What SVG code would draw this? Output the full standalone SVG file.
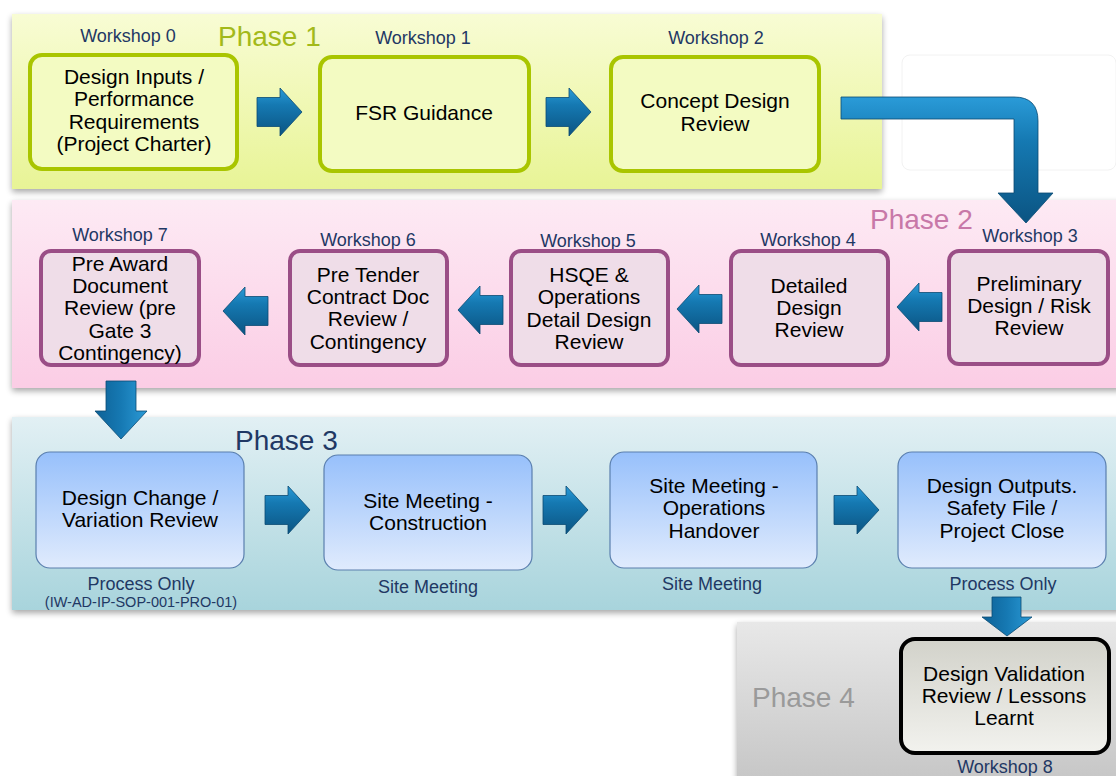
<svg xmlns="http://www.w3.org/2000/svg" width="1116" height="776" viewBox="0 0 1116 776">
<defs>
<linearGradient id="gP1" x1="0" y1="0" x2="0" y2="1"><stop offset="0" stop-color="#f8fcd4"/><stop offset="1" stop-color="#e8f496"/></linearGradient>
<linearGradient id="gP2" x1="0" y1="0" x2="0" y2="1"><stop offset="0" stop-color="#fdeaf4"/><stop offset="1" stop-color="#fbcde5"/></linearGradient>
<linearGradient id="gP3" x1="0" y1="0" x2="0" y2="1"><stop offset="0" stop-color="#e2f0f4"/><stop offset="1" stop-color="#a8d4dc"/></linearGradient>
<linearGradient id="gP4" x1="0" y1="0" x2="0" y2="1"><stop offset="0" stop-color="#e8e8e8"/><stop offset="1" stop-color="#c6c6c6"/></linearGradient>
<linearGradient id="gN3" x1="0" y1="0" x2="0" y2="1"><stop offset="0" stop-color="#97c0fb"/><stop offset="1" stop-color="#e0ebfd"/></linearGradient>
<linearGradient id="gN4" x1="0" y1="0" x2="0" y2="1"><stop offset="0" stop-color="#d2d2ca"/><stop offset="1" stop-color="#f2f2ee"/></linearGradient>
<linearGradient id="gArH" x1="0" y1="0" x2="0" y2="1"><stop offset="0" stop-color="#2a9bd8"/><stop offset="0.35" stop-color="#1579b2"/><stop offset="1" stop-color="#0b5482"/></linearGradient>
<linearGradient id="gArV" x1="0" y1="0" x2="1" y2="0"><stop offset="0" stop-color="#0d6196"/><stop offset="0.5" stop-color="#1679b3"/><stop offset="1" stop-color="#2b9ad6"/></linearGradient>
<filter id="sh" x="-5%" y="-10%" width="110%" height="125%"><feGaussianBlur in="SourceAlpha" stdDeviation="3"/><feOffset dx="0" dy="3" result="b"/><feComponentTransfer><feFuncA type="linear" slope="0.35"/></feComponentTransfer><feMerge><feMergeNode/><feMergeNode in="SourceGraphic"/></feMerge></filter>
<path id="arR" d="M0,-14.5 H23 V-24 L45,0 L23,24 V14.5 H0 Z"/>
</defs>
<style>
.band{filter:url(#sh)}
.n1{fill:#f3fbc2;stroke:#a9c500;stroke-width:4}
.n2{fill:#efdde8;stroke:#9a4e86;stroke-width:4}
.n3{fill:url(#gN3);stroke:#5a7fae;stroke-width:1.2}
.n4{fill:url(#gN4);stroke:#000;stroke-width:4}
.t{font-family:"Liberation Sans",Arial,sans-serif;font-size:21px;fill:#000;text-anchor:middle}
.w{font-family:"Liberation Sans",Arial,sans-serif;font-size:18px;fill:#1f3864;text-anchor:middle}
.s{font-family:"Liberation Sans",Arial,sans-serif;font-size:14.5px;fill:#1f3864;text-anchor:middle}
.ph{font-family:"Liberation Sans",Arial,sans-serif;font-size:28px}
.arH{fill:url(#gArH);stroke:#0a4a72;stroke-width:0.8}
.arV{fill:url(#gArV);stroke:#0a4a72;stroke-width:0.8}
</style>
<rect width="1116" height="776" fill="#ffffff"/>
<g id="bands">
<rect class="band" x="12" y="14" width="870" height="175" fill="url(#gP1)"/>
<rect class="band" x="12" y="200" width="1110" height="188" fill="url(#gP2)"/>
<rect class="band" x="12" y="417" width="1110" height="193" fill="url(#gP3)"/>
<rect class="band" x="737" y="622" width="385" height="160" fill="url(#gP4)"/>
<rect x="902" y="55" width="214" height="115" rx="8" fill="#ffffff" stroke="#f2f2f2" stroke-width="1"/>
<text class="ph" x="218" y="46" fill="#a3b91a">Phase 1</text>
<text class="ph" x="870" y="229" fill="#c878a8">Phase 2</text>
<text class="ph" x="235" y="450" fill="#1f3864">Phase 3</text>
<text class="ph" x="752" y="707" fill="#9a9a9a">Phase 4</text>
</g>
<g id="connectors">
<use href="#arR" class="arH" transform="translate(257,112)"/>
<use href="#arR" class="arH" transform="translate(546,112)"/>
<path class="arH" d="M841,97 H1014 Q1038,97 1038,121 V193 H1053 L1026,223 L998,193 H1014 V119 H841 Z"/>
<use href="#arR" class="arH" transform="translate(942,307) scale(-1,1)"/>
<use href="#arR" class="arH" transform="translate(722,309) scale(-1,1)"/>
<use href="#arR" class="arH" transform="translate(503,310) scale(-1,1)"/>
<use href="#arR" class="arH" transform="translate(268,311) scale(-1,1)"/>
<path class="arV" d="M106,381 H136 V411 H147 L121,439 L95,411 H106 Z"/>
<use href="#arR" class="arH" transform="translate(265,510)"/>
<use href="#arR" class="arH" transform="translate(543,510)"/>
<use href="#arR" class="arH" transform="translate(834,510)"/>
<path class="arV" d="M992,597 H1021 V617 H1032 L1007,636 L982,617 H992 Z"/>
</g>
<g id="node0">
<text class="w" x="128" y="42">Workshop 0</text>
<rect class="n1" x="30" y="55" width="207" height="114" rx="12"/>
<text class="t" x="134" y="84">Design Inputs /</text>
<text class="t" x="134" y="106">Performance</text>
<text class="t" x="134" y="129">Requirements</text>
<text class="t" x="134" y="151">(Project Charter)</text>
</g>
<g id="node1">
<text class="w" x="423" y="44">Workshop 1</text>
<rect class="n1" x="320" y="57" width="209" height="114" rx="12"/>
<text class="t" x="424" y="120">FSR Guidance</text>
</g>
<g id="node2">
<text class="w" x="716" y="44">Workshop 2</text>
<rect class="n1" x="611" y="57" width="208" height="114" rx="12"/>
<text class="t" x="715" y="108">Concept Design</text>
<text class="t" x="715" y="131">Review</text>
</g>
<g id="node3">
<text class="w" x="1030" y="242">Workshop 3</text>
<rect class="n2" x="949" y="251" width="159" height="113" rx="10"/>
<text class="t" x="1029" y="291">Preliminary</text>
<text class="t" x="1029" y="313">Design / Risk</text>
<text class="t" x="1029" y="335">Review</text>
</g>
<g id="node4">
<text class="w" x="808" y="246">Workshop 4</text>
<rect class="n2" x="731" y="251" width="157" height="114" rx="10"/>
<text class="t" x="809" y="293">Detailed</text>
<text class="t" x="809" y="315">Design</text>
<text class="t" x="809" y="337">Review</text>
</g>
<g id="node5">
<text class="w" x="588" y="247">Workshop 5</text>
<rect class="n2" x="511" y="251" width="157" height="114" rx="10"/>
<text class="t" x="589" y="282">HSQE &amp;</text>
<text class="t" x="589" y="304">Operations</text>
<text class="t" x="589" y="327">Detail Design</text>
<text class="t" x="589" y="349">Review</text>
</g>
<g id="node6">
<text class="w" x="368" y="246">Workshop 6</text>
<rect class="n2" x="290" y="251" width="157" height="114" rx="10"/>
<text class="t" x="368" y="282">Pre Tender</text>
<text class="t" x="368" y="304">Contract Doc</text>
<text class="t" x="368" y="326">Review /</text>
<text class="t" x="368" y="349">Contingency</text>
</g>
<g id="node7">
<text class="w" x="120" y="241">Workshop 7</text>
<rect class="n2" x="41" y="251" width="158" height="114" rx="10"/>
<text class="t" x="120" y="271">Pre Award</text>
<text class="t" x="120" y="293">Document</text>
<text class="t" x="120" y="315">Review (pre</text>
<text class="t" x="120" y="338">Gate 3</text>
<text class="t" x="120" y="360">Contingency)</text>
</g>
<g id="nodeA">
<rect class="n3" x="36" y="452" width="208" height="116" rx="14"/>
<text class="t" x="140" y="505">Design Change /</text>
<text class="t" x="140" y="527">Variation Review</text>
<text class="w" x="141" y="590">Process Only</text>
<text class="s" x="141" y="607">(IW-AD-IP-SOP-001-PRO-01)</text>
</g>
<g id="nodeB">
<rect class="n3" x="324" y="455" width="208" height="115" rx="14"/>
<text class="t" x="428" y="508">Site Meeting -</text>
<text class="t" x="428" y="530">Construction</text>
<text class="w" x="428" y="593">Site Meeting</text>
</g>
<g id="nodeC">
<rect class="n3" x="610" y="452" width="207" height="116" rx="14"/>
<text class="t" x="714" y="493">Site Meeting -</text>
<text class="t" x="714" y="515">Operations</text>
<text class="t" x="714" y="538">Handover</text>
<text class="w" x="712" y="590">Site Meeting</text>
</g>
<g id="nodeD">
<rect class="n3" x="898" y="452" width="208" height="116" rx="14"/>
<text class="t" x="1002" y="493">Design Outputs.</text>
<text class="t" x="1002" y="515">Safety File /</text>
<text class="t" x="1002" y="538">Project Close</text>
<text class="w" x="1003" y="590">Process Only</text>
</g>
<g id="node8">
<rect class="n4" x="901" y="639" width="208" height="114" rx="14"/>
<text class="t" x="1004" y="681">Design Validation</text>
<text class="t" x="1004" y="703">Review / Lessons</text>
<text class="t" x="1004" y="725">Learnt</text>
<text class="w" x="1005" y="773">Workshop 8</text>
</g>
</svg>
